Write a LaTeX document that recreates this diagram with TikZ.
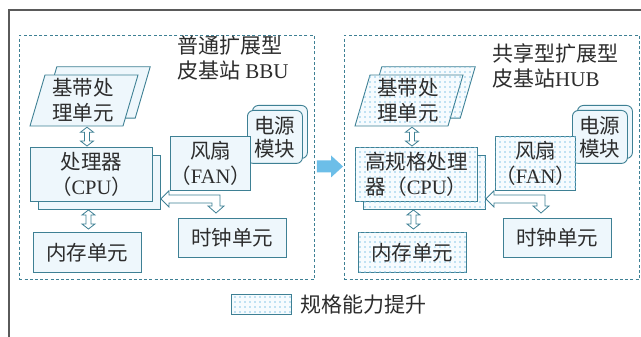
\documentclass[tikz,border=0pt]{standalone}
\usepackage{fontspec}
\setmainfont{Liberation Serif}
\newfontfamily\cjk{Noto Sans CJK SC}
\usetikzlibrary{calc,patterns.meta}
\definecolor{bd}{RGB}{62,128,148}
\definecolor{fl}{RGB}{238,247,252}
\definecolor{dotbg}{RGB}{246,251,254}
\definecolor{dotc}{RGB}{135,200,232}
\definecolor{blu}{RGB}{108,190,232}
\definecolor{txt}{RGB}{45,45,45}
\definecolor{frm}{RGB}{90,90,90}
\newcommand\zh[1]{{\cjk #1}}
\tikzset{
  base/.style={draw=bd, line width=0.9pt, text=txt, font=\fontsize{20.5}{25}\selectfont, align=center, inner sep=0pt},
  plainbox/.style={base, fill=fl},
  dotbox/.style={base, fill=dotbg, postaction={pattern={Dots[distance=5pt,radius=0.9pt]}, pattern color=dotc}},
  rect/.style={rectangle, anchor=north west},
  parabox/.style={rectangle, inner sep=0pt, minimum width=108pt, minimum height=51pt, text=txt, font=\fontsize{20.5}{25}\selectfont, align=center},
  pwr/.style={rectangle, rounded corners=6pt, anchor=north west, minimum width=55pt, minimum height=53pt, font=\fontsize{20.5}{23}\selectfont},
  dashbox/.style={draw=bd, line width=0.9pt, dash pattern=on 3pt off 2.2pt, rectangle, anchor=north west, minimum width=295pt, minimum height=244pt, inner sep=0pt},
  hollow/.style={draw=bd, fill=white, line width=0.8pt, line join=miter},
  titletext/.style={text=txt, font=\fontsize{21}{25}\selectfont, align=left, inner sep=0pt, anchor=north west},
}
% #1 prefix, #2 style, #3 cpu text, #4 shift
\newcommand\grp[4]{%
\begin{scope}[xshift=#4]
  \node[parabox] (#1paraB) at (96,92.5) {};
  \path[#2] (#1paraB.south west) -- ([xshift=-15pt]#1paraB.south east) -- (#1paraB.north east) -- ([xshift=15pt]#1paraB.north west) -- cycle;
  \path[#2] (84,100.5) ++(-54,25.5) -- ++(93,0) -- ++(15,-51) -- ++(-93,0) -- cycle;
  \node[parabox] (#1para) at (83,100.5) {\zh{基带处}\\\zh{理单元}};
  \node[#2, rect, minimum width=122pt, minimum height=54pt] (#1cpuB) at (38,155) {};
  \node[#2, rect, minimum width=122pt, minimum height=54pt] (#1cpu) at (30,147) {#3};
  \node[plainbox, pwr] (#1pwrB) at (252,105) {};
  \node[plainbox, pwr] (#1pwr) at (247,110) {\zh{电源}\\\zh{模块}};
  \node[#2, rect, minimum width=70pt, minimum height=54pt] (#1fan) at (170,136) {\zh{风扇}\\\zh{（}FAN\zh{）}};
  \node[#2, rect, minimum width=108pt, minimum height=40pt] (#1mem) at (33,232) {\zh{内存单元}};
  \node[plainbox, rect, minimum width=108pt, minimum height=39pt] (#1clk) at (178,218) {\zh{时钟单元}};
\end{scope}
\draw[hollow] let \p1=($(#1para.south)+(4,1)$), \p2=($(#1cpu.north)+(0,-1)$) in
  (\x1,\y1) -- (\x1+6.5pt,\y1-5pt) -- (\x1+2.5pt,\y1-5pt) -- (\x1+2.5pt,\y2+5pt) -- (\x1+6.5pt,\y2+5pt) -- (\x1,\y2)
  -- (\x1-6.5pt,\y2+5pt) -- (\x1-2.5pt,\y2+5pt) -- (\x1-2.5pt,\y1-5pt) -- (\x1-6.5pt,\y1-5pt) -- cycle;
\draw[hollow] let \p1=($(#1mem.north)+(1,-22)$), \p2=($(#1mem.north)+(0,-3)$) in
  (\x1,\y1) -- (\x1+6.5pt,\y1-5pt) -- (\x1+2.5pt,\y1-5pt) -- (\x1+2.5pt,\y2+5pt) -- (\x1+6.5pt,\y2+5pt) -- (\x1,\y2)
  -- (\x1-6.5pt,\y2+5pt) -- (\x1-2.5pt,\y2+5pt) -- (\x1-2.5pt,\y1-5pt) -- (\x1-6.5pt,\y1-5pt) -- cycle;
\draw[hollow] let \p1=(#1cpuB.south east), \p2=(#1clk.north west) in
  (\x1,\y1+11pt) -- (\x1+8pt,\y1+19pt) -- (\x1+8pt,\y1+15pt) -- (\x2+42pt,\y1+15pt) -- (\x2+42pt,\y2+12pt)
  -- (\x2+46pt,\y2+12pt) -- (\x2+38pt,\y2+5pt) -- (\x2+30pt,\y2+12pt) -- (\x2+34pt,\y2+12pt) -- (\x2+34pt,\y1+7pt)
  -- (\x1+8pt,\y1+7pt) -- (\x1+8pt,\y1+3pt) -- cycle;
}
\begin{document}
\begin{tikzpicture}[x=1pt,y=-1pt]
\useasboundingbox (0,0) rectangle (641,337);
\fill[white] (0,0) rectangle (641,337);
\draw[frm, line width=1.5pt] (641,10) -- (9,10) -- (9,337);
\node[dashbox] (boxL) at (19,35) {};
\node[dashbox] (boxR) at (344,35) {};
\node[titletext] (tL) at (177,36) {\zh{普通扩展型}\\\zh{皮基站} BBU};
\node[titletext] (tR) at (492,44) {\zh{共享型扩展型}\\\zh{皮基站}HUB};
\grp{L}{plainbox}{\zh{处理器}\\\zh{（}CPU\zh{）}}{0pt}
\grp{R}{dotbox}{\zh{高规格处理}\\\zh{器（}CPU\zh{）}}{325pt}
\fill[blu] let \p1=(boxL.east), \p2=(boxR.west) in
  (\x1+2pt,\y1-3pt) -- (\x2-13pt,\y1-3pt) -- (\x2-13pt,\y1+2pt) -- (\x2-1pt,\y1-9pt)
  -- (\x2-13pt,\y1-20pt) -- (\x2-13pt,\y1-15pt) -- (\x1+2pt,\y1-15pt) -- cycle;
\node[dotbox, rect, minimum width=60pt, minimum height=20pt] (lg) at (231,294) {};
\node[text=txt, font=\fontsize{21}{25}\selectfont, anchor=west, inner sep=0pt] (lgt) at ($(lg.east)+(8,0)$) {\zh{规格能力提升}};
\end{tikzpicture}
\end{document}
